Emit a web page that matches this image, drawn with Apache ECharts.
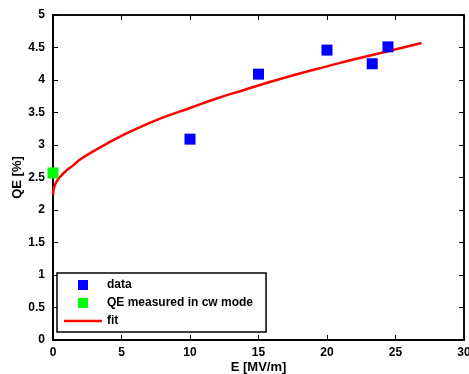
<!DOCTYPE html>
<html>
<head>
<meta charset="utf-8">
<script src="https://cdn.jsdelivr.net/npm/echarts@6/dist/echarts.min.js"></script>
<style>
  html, body { margin: 0; padding: 0; background: #fff; }
  #chart { width: 469px; height: 374px; }
</style>
</head>
<body>
<div id="chart"></div>
<script>
// measured points
const dataE = [10, 15, 20, 23.3, 24.45]
const dataQE = [3.09, 4.09, 4.46, 4.25, 4.51]
const cwE = [0]
const cwQE = [2.57]

// fit curve
const fitE = [0, 0.1, 0.3, 0.6, 1, 1.5, 2, 3, 4, 5, 6, 8, 10, 12, 14, 16, 18, 20, 22, 24, 26.9]
const fitQE = [2.23, 2.36, 2.45, 2.53, 2.61, 2.69, 2.78, 2.91, 3.03, 3.14, 3.24, 3.42, 3.57, 3.72, 3.85, 3.98, 4.1, 4.21, 4.32, 4.42, 4.57]

const seriesNames = ["data", "QE measured in cw mode", "fit"]

const font = "'Liberation Sans', Arial, sans-serif"
const chart = echarts.init(document.getElementById("chart"))

const zip = (xs, ys) => xs.map((x, i) => [x, ys[i]])

const axisCommon = {
  type: "value",
  axisLine: { show: true, onZero: false, lineStyle: { color: "#000", width: 2 } },
  axisTick: { show: true, inside: true, length: 5, lineStyle: { color: "#000", width: 1 } },
  splitLine: { show: false },
  axisLabel: { color: "#000", fontFamily: font, fontWeight: "bold", fontSize: 12 },
}

const square = "path://M0,0h10v10h-10z"
const redLine = "path://M0,0h38v2.5h-38z"

chart.setOption({
  animation: false,
  grid: {
    left: 53, right: 5, top: 15, bottom: 34,
    containLabel: false,
    outerBoundsMode: "none",
    show: true,
    borderColor: "#000",
    borderWidth: 1.5,
  },
  xAxis: [
    {
      ...axisCommon,
      min: 0, max: 30, interval: 5,
      name: "E [MV/m]",
      nameLocation: "middle",
      nameGap: 21,
      nameMoveOverlap: false,
      nameTextStyle: { color: "#000", fontFamily: font, fontWeight: "bold", fontSize: 13 },
      axisLabel: { ...axisCommon.axisLabel, margin: 7 },
    },
    {
      ...axisCommon,
      position: "top",
      min: 0, max: 30, interval: 5,
      axisLine: { show: true, onZero: false, lineStyle: { color: "#000", width: 1.5 } },
      axisLabel: { show: false },
    },
  ],
  yAxis: [
    {
      ...axisCommon,
      min: 0, max: 5, interval: 0.5,
      name: "QE [%]",
      nameLocation: "middle",
      nameGap: 29,
      nameMoveOverlap: false,
      nameTextStyle: { color: "#000", fontFamily: font, fontWeight: "bold", fontSize: 13 },
      axisLabel: { ...axisCommon.axisLabel, margin: 8 },
    },
    {
      ...axisCommon,
      position: "right",
      min: 0, max: 5, interval: 0.5,
      axisLine: { show: true, onZero: false, lineStyle: { color: "#000", width: 1.5 } },
      axisLabel: { show: false },
    },
  ],
  legend: {
    orient: "vertical",
    left: 57,
    top: 273,
    padding: [6, 13, 5, 7],
    itemWidth: 38,
    itemHeight: 10,
    itemGap: 6,
    borderColor: "#000",
    borderWidth: 1.5,
    borderRadius: 0,
    backgroundColor: "#fff",
    data: [
      { name: seriesNames[0], icon: square },
      { name: seriesNames[1], icon: square },
      { name: seriesNames[2], icon: redLine },
    ],
    textStyle: { color: "#000", fontFamily: font, fontWeight: "bold", fontSize: 12 },
  },
  series: [
    {
      name: seriesNames[2],
      type: "line",
      data: zip(fitE, fitQE),
      smooth: true,
      symbol: "none",
      lineStyle: { color: "#ff0000", width: 2.5 },
      itemStyle: { color: "#ff0000" },
      z: 2,
    },
    {
      name: seriesNames[0],
      type: "scatter",
      data: zip(dataE, dataQE),
      symbol: "rect",
      symbolSize: 11,
      itemStyle: { color: "#0000ff", opacity: 1 },
      z: 3,
    },
    {
      name: seriesNames[1],
      type: "scatter",
      data: zip(cwE, cwQE),
      symbol: "rect",
      symbolSize: 11,
      itemStyle: { color: "#00ff00", opacity: 1 },
      clip: false,
      z: 3,
    },
  ],
})
</script>
</body>
</html>
